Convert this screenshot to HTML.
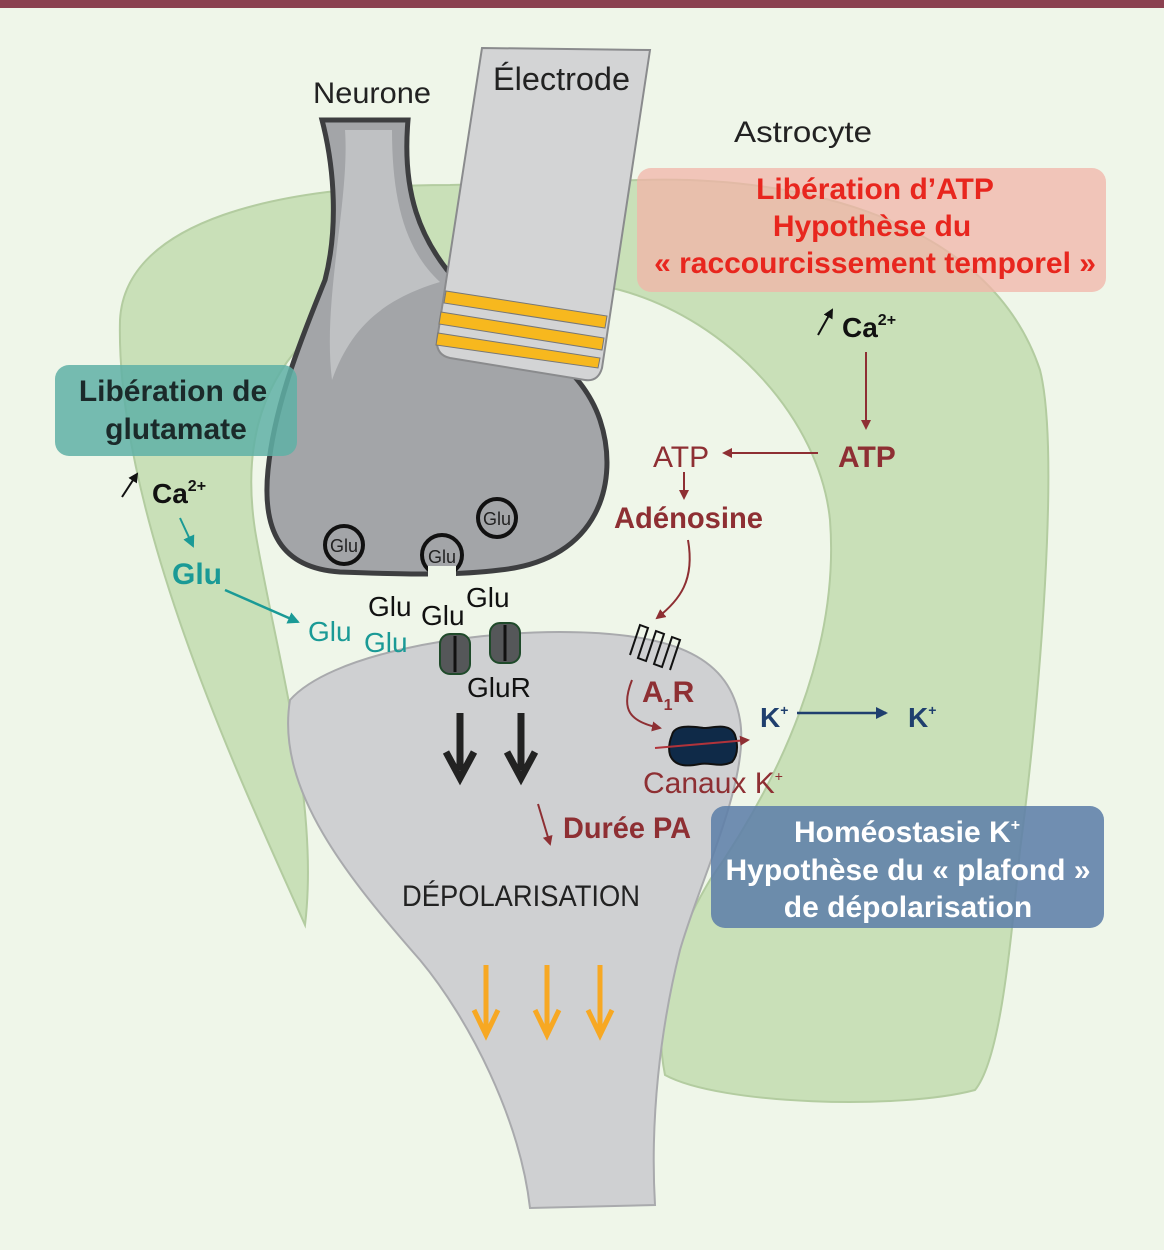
<!DOCTYPE html>
<html><head><meta charset="utf-8"><style>
html,body{margin:0;padding:0;background:#eff6e9;}
svg{display:block}
text{font-family:"Liberation Sans Narrow","Liberation Sans",sans-serif;}
</style></head><body>
<svg width="1164" height="1250" viewBox="0 0 1164 1250" xmlns="http://www.w3.org/2000/svg">
<defs>
<marker id="mr" markerWidth="10" markerHeight="10" refX="8" refY="5" orient="auto" markerUnits="userSpaceOnUse"><path d="M0,0 L10,5 L0,10 Z" fill="#8e2f33"/></marker>
<marker id="mt" markerWidth="12" markerHeight="12" refX="10" refY="6" orient="auto" markerUnits="userSpaceOnUse"><path d="M0,0 L12,6 L0,12 Z" fill="#1a9a96"/></marker>
<marker id="mb" markerWidth="12" markerHeight="12" refX="10" refY="6" orient="auto" markerUnits="userSpaceOnUse"><path d="M0,0 L12,6 L0,12 Z" fill="#1f3f6e"/></marker>
<marker id="mk" markerWidth="10" markerHeight="10" refX="8" refY="5" orient="auto" markerUnits="userSpaceOnUse"><path d="M0,0 L10,5 L0,10 Z" fill="#111"/></marker>
</defs>
<rect width="1164" height="1250" fill="#eff6e9"/>
<rect width="1164" height="8" fill="#8b4150"/>

<!-- astrocyte -->
<path d="M305 925 C250 800,115 520,120 320 C125 220,280 185,450 185 L640 180 C800 175,990 220,1040 370 C1060 450,1040 700,1020 850 C1010 950,1000 1060,975 1090 C900 1110,720 1105,665 1075 C650 1000,680 930,710 880 C780 780,840 650,830 520 C820 420,730 320,620 290 C520 265,400 275,340 310 C270 360,240 430,255 530 C275 650,320 800,305 925 Z" fill="#c9e0b8" stroke="#b3cca0" stroke-width="2"/>

<!-- postsynaptic -->
<path d="M290 700 C330 655,460 632,560 632 C680 632,730 660,740 720 C750 780,700 880,680 950 C660 1030,650 1120,655 1205 L530 1208 C520 1120,470 1020,420 960 C350 880,275 790,290 700 Z" fill="#cfd0d2" stroke="#a9aaad" stroke-width="2"/>

<!-- presynaptic -->
<path d="M322 120 L408 120 C402 190,418 240,460 285 C520 335,580 360,600 420 C620 480,600 560,500 570 C460 575,420 575,340 572 C280 568,262 530,268 470 C275 400,305 330,325 280 C338 230,335 170,322 120 Z" fill="#a3a5a8" stroke="#3d3e40" stroke-width="5"/>
<path d="M345 130 L392 130 C392 200,405 250,440 282 C380 300,350 330,332 380 C322 300,350 200,345 130Z" fill="#bfc1c3"/>
<circle cx="442" cy="555" r="20" fill="#a3a5a8" stroke="#111" stroke-width="4"/>
<rect x="428" y="566" width="28" height="14" fill="#eff6e9"/>
<circle cx="344" cy="545" r="19" fill="#a3a5a8" stroke="#111" stroke-width="4"/>
<circle cx="497" cy="518" r="19" fill="#a3a5a8" stroke="#111" stroke-width="4"/>
<text x="344" y="552" font-size="18" text-anchor="middle" fill="#222">Glu</text>
<text x="442" y="563" font-size="18" text-anchor="middle" fill="#222">Glu</text>
<text x="497" y="525" font-size="18" text-anchor="middle" fill="#222">Glu</text>

<!-- electrode -->
<path d="M482 48 L650 50 L602 368 Q598 382 585 380 L450 358 Q436 355 437 340 Z" fill="#d3d4d5" stroke="#8a8b8d" stroke-width="2"/>
<g fill="#f7b81e" stroke="#777" stroke-width="1">
<polygon points="446,291 607,316 605,328 444,303"/>
<polygon points="441,312 604,338 602,350 439,324"/>
<polygon points="438,333 600,358 598,368 436,345"/>
</g>

<text x="313" y="103" font-size="30" textLength="118" lengthAdjust="spacingAndGlyphs" fill="#222">Neurone</text>
<text x="493" y="90" font-size="32" textLength="137" lengthAdjust="spacingAndGlyphs" fill="#222">Électrode</text>
<text x="734" y="142" font-size="30" textLength="138" lengthAdjust="spacingAndGlyphs" fill="#222">Astrocyte</text>

<!-- boxes -->
<rect x="637" y="168" width="469" height="124" rx="14" fill="#f2b4a8" opacity="0.75"/>
<g font-weight="bold" fill="#e8261e" font-size="30" text-anchor="middle">
<text x="875" y="199">Libération d’ATP</text>
<text x="872" y="236">Hypothèse du</text>
<text x="875" y="273">« raccourcissement temporel »</text>
</g>
<rect x="55" y="365" width="242" height="91" rx="14" fill="#5fb0a6" opacity="0.85"/>
<g font-weight="bold" fill="#1b2a2a" font-size="30" text-anchor="middle">
<text x="173" y="401">Libération de</text>
<text x="176" y="439">glutamate</text>
</g>
<rect x="711" y="806" width="393" height="122" rx="14" fill="#5f7fa8" opacity="0.88"/>
<g font-weight="bold" fill="#fff" font-size="30" text-anchor="middle">
<text x="907" y="842">Homéostasie K<tspan font-size="16" dy="-12">+</tspan></text>
<text x="908" y="880">Hypothèse du « plafond »</text>
<text x="908" y="917">de dépolarisation</text>
</g>

<!-- right pathway -->
<line x1="818" y1="335" x2="832" y2="310" stroke="#111" stroke-width="2" marker-end="url(#mk)"/>
<text x="842" y="337" font-size="28" font-weight="bold" fill="#111">Ca<tspan font-size="16" dy="-12">2+</tspan></text>
<line x1="866" y1="352" x2="866" y2="428" stroke="#8e2f33" stroke-width="2" marker-end="url(#mr)"/>
<text x="838" y="467" font-size="30" font-weight="bold" fill="#8e2f33">ATP</text>
<line x1="818" y1="453" x2="724" y2="453" stroke="#8e2f33" stroke-width="2" marker-end="url(#mr)"/>
<text x="653" y="467" font-size="30" fill="#8e2f33">ATP</text>
<line x1="684" y1="472" x2="684" y2="498" stroke="#8e2f33" stroke-width="2" marker-end="url(#mr)"/>
<text x="614" y="528" font-size="30" font-weight="bold" fill="#8e2f33" textLength="149" lengthAdjust="spacingAndGlyphs">Adénosine</text>
<path d="M688 540 C695 580,680 600,657 618" fill="none" stroke="#8e2f33" stroke-width="2" marker-end="url(#mr)"/>
<path d="M630 655 L640 625 L648 628 L638 658 L646 661 L656 631 L664 634 L654 664 L662 667 L672 637 L680 640 L670 670" fill="none" stroke="#111" stroke-width="2"/>
<text x="642" y="702" font-size="30" font-weight="bold" fill="#8e2f33">A<tspan font-size="16" dy="8">1</tspan><tspan dy="-8">R</tspan></text>
<path d="M632 680 C620 710,630 722,660 728" fill="none" stroke="#8e2f33" stroke-width="2" marker-end="url(#mr)"/>
<path d="M672 735 C675 722,700 728,705 728 C712 728,730 722,735 735 C738 745,738 755,732 762 C720 768,710 762,700 764 C690 766,675 768,670 755 C668 748,670 740,672 735Z" fill="#0f2a48" stroke="#111" stroke-width="2"/>
<line x1="655" y1="748" x2="748" y2="740" stroke="#b0333a" stroke-width="2" marker-end="url(#mr)"/>
<text x="760" y="727" font-size="28" font-weight="bold" fill="#1f3f6e">K<tspan font-size="14" dy="-12">+</tspan></text>
<line x1="797" y1="713" x2="886" y2="713" stroke="#1f3f6e" stroke-width="2.5" marker-end="url(#mb)"/>
<text x="908" y="727" font-size="28" font-weight="bold" fill="#1f3f6e">K<tspan font-size="14" dy="-12">+</tspan></text>
<text x="643" y="793" font-size="30" fill="#8e2f33">Canaux K<tspan font-size="14" dy="-12">+</tspan></text>
<line x1="538" y1="804" x2="550" y2="844" stroke="#8e2f33" stroke-width="2" marker-end="url(#mr)"/>
<text x="563" y="838" font-size="30" font-weight="bold" fill="#8e2f33" textLength="128" lengthAdjust="spacingAndGlyphs">Durée PA</text>
<text x="402" y="906" font-size="30" textLength="238" lengthAdjust="spacingAndGlyphs" fill="#222">DÉPOLARISATION</text>

<!-- left pathway -->
<line x1="122" y1="497" x2="137" y2="474" stroke="#111" stroke-width="2" marker-end="url(#mk)"/>
<text x="152" y="503" font-size="28" font-weight="bold" fill="#111">Ca<tspan font-size="16" dy="-12">2+</tspan></text>
<line x1="180" y1="518" x2="193" y2="546" stroke="#1a9a96" stroke-width="2" marker-end="url(#mt)"/>
<text x="172" y="584" font-size="30" font-weight="bold" fill="#1a9a96">Glu</text>
<line x1="225" y1="590" x2="298" y2="622" stroke="#1a9a96" stroke-width="2.5" marker-end="url(#mt)"/>
<text x="308" y="641" font-size="28" fill="#1a9a96">Glu</text>
<text x="364" y="652" font-size="28" fill="#1a9a96">Glu</text>
<text x="368" y="616" font-size="28" fill="#111">Glu</text>
<text x="421" y="625" font-size="28" fill="#111">Glu</text>
<text x="466" y="607" font-size="28" fill="#111">Glu</text>

<!-- receptors -->
<g stroke="#1f4a2a" stroke-width="2" fill="#555759">
<rect x="440" y="634" width="30" height="40" rx="10"/>
<rect x="490" y="623" width="30" height="40" rx="10"/>
</g>
<line x1="455" y1="636" x2="455" y2="672" stroke="#111" stroke-width="3"/>
<line x1="505" y1="625" x2="505" y2="661" stroke="#111" stroke-width="3"/>
<text x="467" y="697" font-size="28" fill="#111">GluR</text>

<!-- black arrows -->
<g stroke="#222" stroke-width="7" fill="none">
<line x1="460" y1="713" x2="460" y2="770"/><polyline points="446,752 460,778 474,752"/>
<line x1="521" y1="713" x2="521" y2="770"/><polyline points="507,752 521,778 535,752"/>
</g>
<!-- orange arrows -->
<g stroke="#f7a823" stroke-width="5" fill="none">
<line x1="486" y1="965" x2="486" y2="1030"/><polyline points="474,1010 486,1035 498,1010"/>
<line x1="547" y1="965" x2="547" y2="1030"/><polyline points="535,1010 547,1035 559,1010"/>
<line x1="600" y1="965" x2="600" y2="1030"/><polyline points="588,1010 600,1035 612,1010"/>
</g>
</svg>
</body></html>
